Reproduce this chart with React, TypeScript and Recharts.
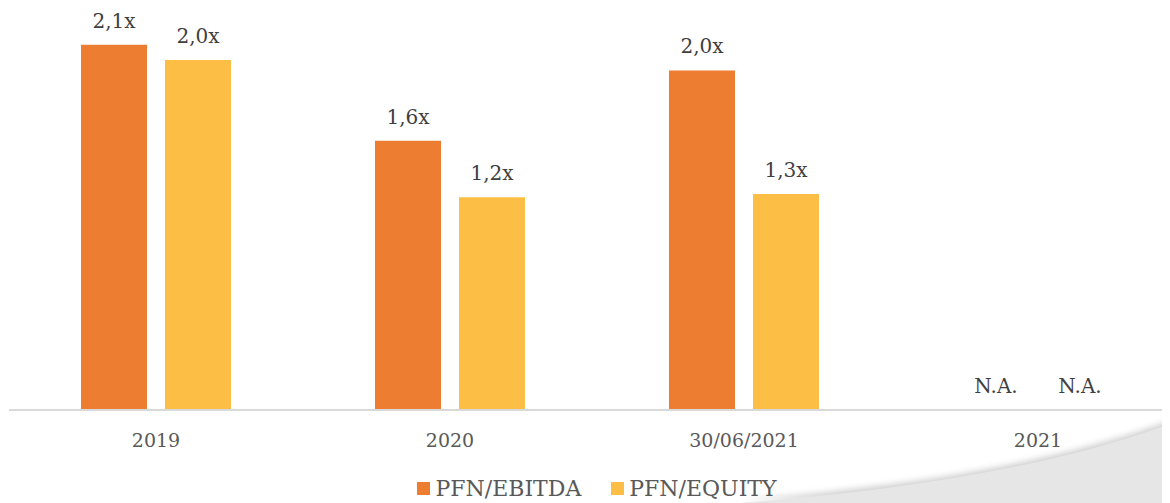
import React from "react";
import { BarChart, Bar, XAxis, YAxis, LabelList, Legend, Cell } from "recharts";

const categories = ["2019", "2020", "30/06/2021", "2021"];
const pfnEbitda: (number | null)[] = [2.13, 1.57, 1.98, null];
const pfnEquity: (number | null)[] = [2.04, 1.24, 1.26, null];
const seriesNames = ["PFN/EBITDA", "PFN/EQUITY"];
const seriesColors = ["#ED7D31", "#FDBE46"];
const naText = "N.A.";

const fmt = (v: number | null) =>
  v == null ? naText : v.toFixed(1).replace(".", ",") + "x";

const data = categories.map((c, i) => ({
  name: c,
  ebitda: pfnEbitda[i] ?? 0,
  equity: pfnEquity[i] ?? 0,
  ebitdaLabel: fmt(pfnEbitda[i]),
  equityLabel: fmt(pfnEquity[i]),
}));

const FONT = "'DejaVu Serif', serif";

const BarLabel = (props: any) => {
  const { x, y, width, height, value } = props;
  const top = Number(y) + Math.min(0, Number(height));
  const isNA = value === naText;
  return (
    <text
      x={Number(x) + Number(width) / 2}
      y={(isNA ? Number(y) + Number(height) : top) - 17}
      textAnchor="middle"
      fontFamily={FONT}
      fontSize={20}
      fill="#404040"
    >
      {value}
    </text>
  );
};

const Tick = (props: any) => {
  const { x, y, payload } = props;
  return (
    <text
      x={x}
      y={y}
      dy={37}
      textAnchor="middle"
      fontFamily={FONT}
      fontSize={19}
      fill="#595959"
    >
      {payload.value}
    </text>
  );
};

const LegendContent = () => (
  <div
    style={{
      height: 30,
      display: "flex",
      justifyContent: "center",
      alignItems: "center",
      fontFamily: FONT,
      fontSize: 22,
      color: "#595959",
    }}
  >
    {seriesNames.map((n, i) => (
      <div
        key={n}
        style={{
          display: "flex",
          alignItems: "center",
          marginLeft: i === 0 ? 0 : 30,
        }}
      >
        <span
          style={{
            display: "inline-block",
            width: 13,
            height: 13,
            background: seriesColors[i],
            marginRight: 5,
          }}
        />
        <span>{n}</span>
      </div>
    ))}
  </div>
);

export default function App() {
  return (
    <div
      style={{
        position: "relative",
        width: 1162,
        height: 495,
        overflow: "hidden",
      }}
    >
      <svg
        width={1170}
        height={503}
        style={{ position: "absolute", left: -8, top: -8 }}
      >
        <defs>
          <filter id="blur" x="-10%" y="-50%" width="120%" height="200%">
            <feGaussianBlur stdDeviation="3" />
          </filter>
        </defs>
        <path
          d="M 740 503 C 880 492, 1040 472, 1175 422 L 1175 503 Z"
          fill="#cfcfcf"
          filter="url(#blur)"
          transform="translate(0,-3)"
        />
        <path
          d="M 740 503 C 880 492, 1040 472, 1175 422 L 1175 503 Z"
          fill="#e6e6e6"
        />
      </svg>
      <div style={{ position: "absolute", left: 0, top: 0 }}>
        <BarChart
          width={1177}
          height={495}
          data={data}
          margin={{ top: 7.5, right: 0, bottom: 0, left: 1 }}
          barGap={18}
          barCategoryGap={72}
        >
          <XAxis
            dataKey="name"
            axisLine={{ stroke: "#d9d9d9", strokeWidth: 2 }}
            tickLine={false}
            tickSize={0}
            tickMargin={0}
            height={63}
            tick={<Tick />}
            interval={0}
          />
          <YAxis hide domain={[0, 2.3]} />
          <Legend verticalAlign="bottom" content={<LegendContent />} />
          <Bar
            dataKey="ebitda"
            fill={seriesColors[0]}
            minPointSize={1}
            isAnimationActive={false}
          >
            {pfnEbitda.map((v, i) => (
              <Cell key={i} fill={seriesColors[0]} fillOpacity={v == null ? 0 : 1} />
            ))}
            <LabelList dataKey="ebitdaLabel" content={<BarLabel />} />
          </Bar>
          <Bar
            dataKey="equity"
            fill={seriesColors[1]}
            minPointSize={1}
            isAnimationActive={false}
          >
            {pfnEquity.map((v, i) => (
              <Cell key={i} fill={seriesColors[1]} fillOpacity={v == null ? 0 : 1} />
            ))}
            <LabelList dataKey="equityLabel" content={<BarLabel />} />
          </Bar>
        </BarChart>
      </div>
    </div>
  );
}
